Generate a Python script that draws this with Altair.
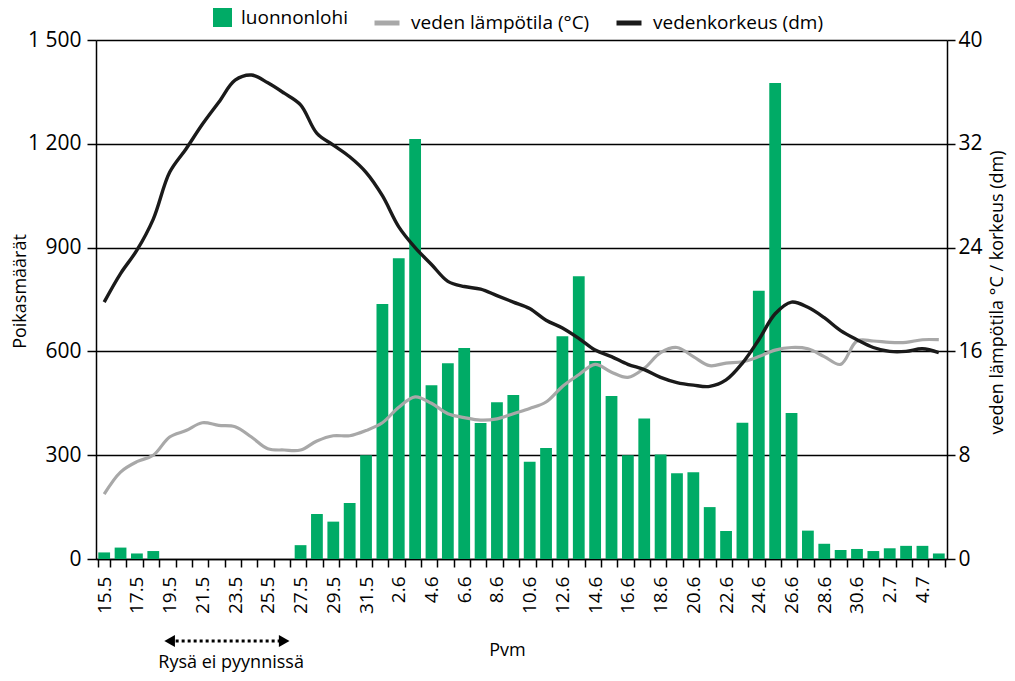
import altair as alt
import pandas as pd

pvm = ["15.5", "16.5", "17.5", "18.5", "19.5", "20.5", "21.5", "22.5", "23.5", "24.5",
       "25.5", "26.5", "27.5", "28.5", "29.5", "30.5", "31.5",
       "1.6", "2.6", "3.6", "4.6", "5.6", "6.6", "7.6", "8.6", "9.6", "10.6",
       "11.6", "12.6", "13.6", "14.6", "15.6", "16.6", "17.6", "18.6", "19.6", "20.6",
       "21.6", "22.6", "23.6", "24.6", "25.6", "26.6", "27.6", "28.6", "29.6", "30.6",
       "1.7", "2.7", "3.7", "4.7", "5.7"]

luonnonlohi = [19, 33, 16, 23, None, None, None, None, None, None,
               None, None, 40, 130, 108, 162, 300,
               737, 869, 1214, 502, 566, 610, 393, 453, 474, 281,
               321, 644, 817, 572, 471, 300, 406, 302, 248, 251,
               150, 81, 394, 775, 1376, 422, 82, 44, 26, 29,
               23, 31, 38, 38, 16]

lampotila = [5.0, 6.7, 7.5, 8.0, 9.4, 9.9, 10.5, 10.3, 10.2, 9.4,
             8.5, 8.4, 8.4, 9.1, 9.5, 9.5, 9.9,
             10.5, 11.7, 12.5, 12.0, 11.2, 10.9, 10.7, 10.8, 11.2, 11.6,
             12.1, 13.3, 14.2, 15.0, 14.4, 14.0, 14.7, 15.9, 16.3, 15.6,
             14.9, 15.1, 15.2, 15.6, 16.1, 16.3, 16.2, 15.6, 15.0, 16.8,
             16.8, 16.7, 16.7, 16.9, 16.9]

korkeus = [19.8, 22.0, 23.8, 26.2, 29.8, 31.6, 33.5, 35.2, 36.9, 37.3,
           36.7, 35.9, 35.0, 32.8, 31.9, 31.0, 29.8,
           28.0, 25.6, 24.0, 22.7, 21.4, 21.0, 20.8, 20.3, 19.8, 19.3,
           18.4, 17.8, 17.0, 16.1, 15.6, 15.0, 14.6, 14.0, 13.6, 13.4,
           13.3, 13.8, 15.1, 16.9, 18.9, 19.8, 19.4, 18.6, 17.6, 16.9,
           16.3, 16.0, 16.0, 16.2, 15.9]

left_ticks = [0, 300, 600, 900, 1200, 1500]
right_ticks = [0, 8, 16, 24, 32, 40]

LOHI = "luonnonlohi"
TEMP = "veden lämpötila (°C)"
LEVEL = "vedenkorkeus (dm)"

arrow_df = pd.DataFrame({"pvm": ["19.5", "26.5"], "dir": ["l", "r"]})
note_df = pd.DataFrame({"pvm": ["23.5"], "txt": ["Rysä ei pyynnissä"]})

df = pd.DataFrame({"pvm": pvm, "lohi": luonnonlohi, "temp": lampotila, "level": korkeus})

FONT = "Open Sans"
GREEN = "#00AB66"
GREY = "#A8A8A8"
BLACK = "#1A1A1A"

label_expr = ("(split(datum.value, '.')[1] == '5' ? "
              "parseInt(split(datum.value, '.')[0]) % 2 == 1 : "
              "parseInt(split(datum.value, '.')[0]) % 2 == 0) ? datum.value : ''")

x_axis = alt.Axis(labelAngle=270, labelExpr=label_expr, labelOverlap=False,
                  tickBand="extent", tickSize=8, tickWidth=1.5, labelPadding=9,
                  labelFontSize=19, titleFontSize=18, titleFontWeight="normal",
                  titleX=411, titleY=91, titleBaseline="middle",
                  domainColor="black", domainWidth=1.5, tickColor="black",
                  labelColor="black", titleColor="black", grid=False)


def x_enc():
    return alt.X("pvm:N", sort=pvm, title="Pvm",
                 scale=alt.Scale(paddingInner=0.28, paddingOuter=0.14),
                 axis=x_axis)


left_axis = alt.Axis(values=left_ticks, grid=True, gridColor="black", gridWidth=1.6,
                     tickSize=9, tickWidth=1.5, labelPadding=6, labelFontSize=21,
                     labelColor="black",
                     labelExpr="replace(format(datum.value, ','), ',', ' ')",
                     titleFontSize=18, titleFontWeight="normal", titleColor="black",
                     titleAngle=270, titleX=-76, titleY=251,
                     titleAlign="center", titleBaseline="middle",
                     domainColor="black", domainWidth=1.5, tickColor="black")

right_axis = alt.Axis(orient="right", values=right_ticks, grid=False,
                      tickSize=8, tickWidth=1.5, labelPadding=3, labelFontSize=21,
                      labelColor="black",
                      titleFontSize=18, titleFontWeight="normal", titleColor="black",
                      titleAngle=270, titleX=50, titleY=252,
                      titleAlign="center", titleBaseline="middle",
                      domainColor="black", domainWidth=1.5, tickColor="black")

bars = alt.Chart(df).transform_calculate(
    sarja=f"'{LOHI}'"
).mark_bar().encode(
    x=x_enc(),
    y=alt.Y("lohi:Q", title="Poikasmäärät",
            scale=alt.Scale(domain=[0, 1500], nice=False), axis=left_axis),
    fill=alt.Fill("sarja:N", scale=alt.Scale(domain=[LOHI], range=[GREEN]),
                  legend=alt.Legend(title=None, orient="none", legendX=117, legendY=-32,
                                    direction="horizontal", symbolType="square",
                                    symbolSize=361, symbolStrokeWidth=0,
                                    labelFontSize=19, labelColor="black", labelOffset=9,
                                    labelLimit=400)),
)

stroke_scale = alt.Scale(domain=[TEMP, LEVEL], range=[GREY, BLACK])
stroke_legend = alt.Legend(title=None, orient="none", legendX=276, legendY=-32,
                           direction="horizontal", symbolType="stroke", symbolSize=625,
                           symbolStrokeWidth=5, labelFontSize=19, labelColor="black",
                           labelOffset=9, columnPadding=16, labelLimit=400)

temp_line = alt.Chart(df).transform_calculate(
    sarja=f"'{TEMP}'"
).mark_line(strokeWidth=3.2, interpolate="catmull-rom").encode(
    x=x_enc(),
    y=alt.Y("temp:Q", title="veden lämpötila °C / korkeus (dm)",
            scale=alt.Scale(domain=[0, 40], nice=False), axis=right_axis),
    stroke=alt.Stroke("sarja:N", scale=stroke_scale, legend=stroke_legend),
)

level_line = alt.Chart(df).transform_calculate(
    sarja=f"'{LEVEL}'"
).mark_line(strokeWidth=3.4, interpolate="catmull-rom").encode(
    x=x_enc(),
    y=alt.Y("level:Q", title="veden lämpötila °C / korkeus (dm)",
            scale=alt.Scale(domain=[0, 40], nice=False), axis=right_axis),
    stroke=alt.Stroke("sarja:N", scale=stroke_scale, legend=stroke_legend),
)

lines = alt.layer(temp_line, level_line)

arrow_line = alt.Chart(arrow_df).mark_line(
    strokeWidth=3, strokeDash=[3, 3], color="black"
).encode(x=x_enc(), y=alt.value(601))

arrow_heads = alt.Chart(arrow_df).mark_point(
    filled=True, size=150, color="black", opacity=1
).encode(
    x=x_enc(), y=alt.value(601),
    shape=alt.Shape("dir:N", scale=alt.Scale(domain=["l", "r"],
                                             range=["triangle-left", "triangle-right"]),
                    legend=None),
)

note = alt.Chart(note_df).mark_text(
    fontSize=18, color="black", font=FONT, dx=-4, baseline="alphabetic"
).encode(x=x_enc(), y=alt.value(628), text="txt:N")

chart = alt.layer(
    bars, lines, arrow_line, arrow_heads, note
).resolve_scale(
    y="independent"
).properties(
    width=851, height=519,
    padding={"left": 88, "top": 32, "right": 60, "bottom": 114},
    autosize=alt.AutoSizeParams(type="none"),
).configure(
    font=FONT
).configure_view(
    strokeWidth=0
)

chart.save("out.html", embed_options={"renderer": "svg", "actions": False})
